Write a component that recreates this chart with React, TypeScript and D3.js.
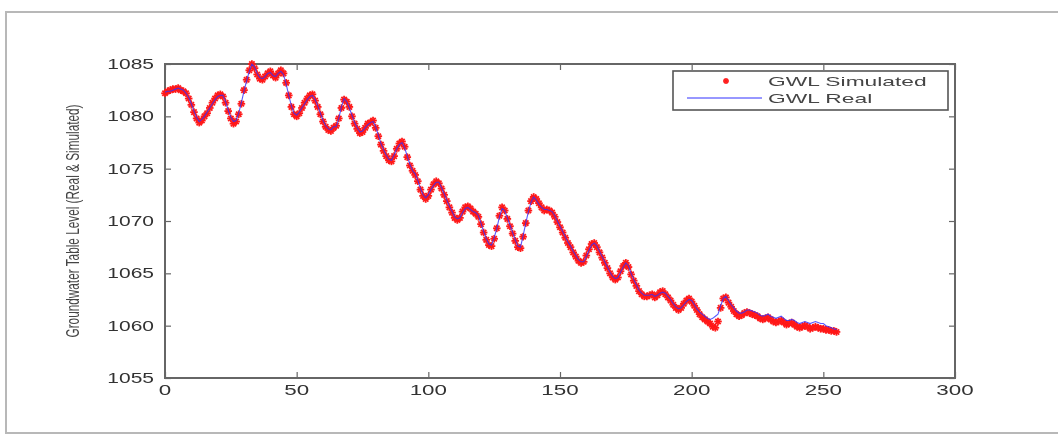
import React, { useRef, useEffect } from 'react'
import * as d3 from 'd3'

// groundwater level, real measurements (blue line)
const gwlReal: number[] = [
	1082.3, 1082.4, 1082.4, 1082.5, 1082.6, 1082.7, 1082.6, 1082.5, 1082.2, 1081.8,
	1081.2, 1080.5, 1079.9, 1079.5, 1079.7, 1080.0, 1080.4, 1080.8, 1081.2, 1081.6,
	1081.9, 1082.0, 1082.0, 1081.4, 1080.6, 1079.9, 1079.5, 1079.6, 1080.3, 1081.3,
	1082.4, 1083.4, 1084.3, 1085.0, 1084.7, 1084.1, 1083.7, 1083.6, 1083.8, 1084.1,
	1084.2, 1083.9, 1083.8, 1084.1, 1084.3, 1084.0, 1083.1, 1082.0, 1081.0, 1080.3,
	1080.1, 1080.4, 1080.8, 1081.2, 1081.6, 1081.9, 1082.0, 1081.6, 1081.0, 1080.3,
	1079.6, 1079.1, 1078.8, 1078.7, 1079.0, 1079.0, 1079.8, 1080.9, 1081.7, 1081.4,
	1080.8, 1080.1, 1079.4, 1078.9, 1078.5, 1078.6, 1078.9, 1079.2, 1079.4, 1079.5,
	1079.0, 1078.2, 1077.4, 1076.8, 1076.3, 1075.9, 1075.8, 1076.3, 1076.9, 1077.3,
	1077.5, 1077.0, 1076.2, 1075.4, 1074.8, 1074.5, 1073.9, 1073.1, 1072.5, 1072.2,
	1072.5, 1073.0, 1073.4, 1073.7, 1073.7, 1073.2, 1072.6, 1072.0, 1071.4, 1070.9,
	1070.4, 1070.2, 1070.3, 1070.8, 1071.2, 1071.3, 1071.1, 1070.9, 1070.8, 1070.5,
	1069.8, 1069.0, 1068.3, 1067.8, 1067.7, 1068.4, 1069.3, 1070.4, 1071.2, 1071.0,
	1070.3, 1069.6, 1068.9, 1068.2, 1067.6, 1067.5, 1068.6, 1069.8, 1070.9, 1071.8,
	1072.3, 1072.0, 1071.6, 1071.3, 1071.1, 1071.1, 1071.0, 1070.9, 1070.5, 1070.0,
	1069.5, 1069.0, 1068.5, 1068.0, 1067.6, 1067.1, 1066.7, 1066.3, 1066.1, 1066.1,
	1066.6, 1067.2, 1067.7, 1067.9, 1067.6, 1067.1, 1066.6, 1066.1, 1065.6, 1065.1,
	1064.7, 1064.5, 1064.6, 1065.1, 1065.6, 1066.0, 1065.7, 1065.0, 1064.4, 1063.9,
	1063.4, 1063.1, 1062.9, 1062.9, 1062.9, 1063.0, 1062.8, 1062.9, 1063.1, 1063.2,
	1063.1, 1062.8, 1062.5, 1062.1, 1061.8, 1061.6, 1061.7, 1062.0, 1062.3, 1062.5,
	1062.4, 1062.0, 1061.6, 1061.3, 1061.1, 1060.9, 1060.7, 1060.6, 1060.7, 1060.9,
	1061.1, 1061.9, 1062.6, 1062.8, 1062.4, 1062.0, 1061.7, 1061.4, 1061.2, 1061.2,
	1061.3, 1061.5, 1061.5, 1061.4, 1061.3, 1061.2, 1061.0, 1060.9, 1061.0, 1061.1,
	1060.9, 1060.8, 1060.7, 1060.8, 1060.9, 1060.7, 1060.5, 1060.5, 1060.6, 1060.5,
	1060.3, 1060.2, 1060.3, 1060.4, 1060.3, 1060.2, 1060.3, 1060.4, 1060.3, 1060.2,
	1060.2, 1060.0, 1059.9, 1059.8, 1059.7, 1059.6,
]

// groundwater level, model output (red asterisks)
const gwlSimulated: number[] = [
	1082.2, 1082.4, 1082.5, 1082.6, 1082.6, 1082.7, 1082.5, 1082.4, 1082.2, 1081.7,
	1081.1, 1080.4, 1079.8, 1079.4, 1079.6, 1080.0, 1080.3, 1080.8, 1081.3, 1081.7,
	1082.0, 1082.1, 1081.9, 1081.3, 1080.5, 1079.8, 1079.3, 1079.5, 1080.2, 1081.2,
	1082.5, 1083.5, 1084.4, 1085.0, 1084.6, 1084.0, 1083.6, 1083.5, 1083.8, 1084.1,
	1084.3, 1083.9, 1083.7, 1084.1, 1084.4, 1084.1, 1083.2, 1082.0, 1080.9, 1080.2,
	1080.0, 1080.3, 1080.8, 1081.3, 1081.7, 1082.0, 1082.1, 1081.5, 1080.9, 1080.2,
	1079.5, 1079.0, 1078.7, 1078.6, 1078.9, 1079.1, 1079.8, 1080.8, 1081.6, 1081.4,
	1080.9, 1080.0, 1079.3, 1078.8, 1078.4, 1078.5, 1078.9, 1079.3, 1079.4, 1079.6,
	1078.9, 1078.1, 1077.3, 1076.7, 1076.2, 1075.8, 1075.7, 1076.2, 1076.9, 1077.4,
	1077.6, 1077.1, 1076.1, 1075.3, 1074.8, 1074.4, 1073.8, 1073.0, 1072.4, 1072.1,
	1072.4, 1073.0, 1073.5, 1073.8, 1073.6, 1073.1, 1072.5, 1071.9, 1071.3, 1070.8,
	1070.3, 1070.1, 1070.3, 1070.9, 1071.3, 1071.4, 1071.2, 1070.9, 1070.7, 1070.4,
	1069.7, 1068.9, 1068.2, 1067.7, 1067.6, 1068.3, 1069.3, 1070.5, 1071.3, 1071.0,
	1070.2, 1069.5, 1068.8, 1068.1, 1067.5, 1067.4, 1068.5, 1069.8, 1071.0, 1071.9,
	1072.3, 1072.1, 1071.7, 1071.3, 1071.0, 1071.1, 1071.0, 1070.8, 1070.4, 1069.9,
	1069.4, 1068.9, 1068.4, 1067.9, 1067.5, 1067.0, 1066.6, 1066.2, 1066.0, 1066.1,
	1066.7, 1067.3, 1067.8, 1067.9, 1067.5, 1067.0, 1066.5, 1066.0, 1065.5, 1065.0,
	1064.6, 1064.4, 1064.6, 1065.2, 1065.7, 1066.0, 1065.6, 1064.9, 1064.3, 1063.8,
	1063.3, 1063.0, 1062.8, 1062.8, 1062.9, 1063.0, 1062.7, 1062.9, 1063.2, 1063.3,
	1063.0, 1062.7, 1062.4, 1062.0, 1061.7, 1061.5, 1061.7, 1062.1, 1062.4, 1062.6,
	1062.3, 1061.9, 1061.5, 1061.1, 1060.8, 1060.6, 1060.4, 1060.2, 1059.9, 1059.8,
	1060.4, 1061.7, 1062.6, 1062.7, 1062.2, 1061.8, 1061.4, 1061.1, 1060.9, 1061.0,
	1061.2, 1061.3, 1061.2, 1061.1, 1061.0, 1060.9, 1060.7, 1060.6, 1060.7, 1060.8,
	1060.6, 1060.4, 1060.3, 1060.4, 1060.5, 1060.3, 1060.1, 1060.2, 1060.3, 1060.1,
	1059.9, 1059.8, 1059.9, 1060.0, 1059.9, 1059.7, 1059.8, 1059.9, 1059.8, 1059.7,
	1059.7, 1059.6, 1059.6, 1059.5, 1059.5, 1059.4,
]

const xTicks: number[] = [0, 50, 100, 150, 200, 250, 300]
const yTicks: number[] = [1055, 1060, 1065, 1070, 1075, 1080, 1085]
const yLabel = 'Groundwater Table Level (Real & Simulated)'
const legendLabels: string[] = ['GWL Simulated', 'GWL Real']

const App = () => {
	const svgRef = useRef<SVGSVGElement>(null)

	useEffect(() => {
		const root = d3.select(svgRef.current)
		root.selectAll('*').remove()

		const W = 1058,
			H = 435
		const margin = { top: 64, right: 103, bottom: 57, left: 165 }
		const width = W - margin.left - margin.right,
			height = H - margin.top - margin.bottom

		root.attr('width', W).attr('height', H)

		// soft blur, the source is a low-res screenshot
		root.append('defs')
			.append('filter')
			.attr('id', 'soft')
			.append('feGaussianBlur')
			.attr('stdDeviation', 0.75)

		const page = root.append('g').attr('filter', 'url(#soft)')

		page.append('rect')
			.attr('x', 6)
			.attr('y', 12)
			.attr('width', 1060)
			.attr('height', 421)
			.attr('fill', 'white')
			.attr('stroke', '#b8b8b8')
			.attr('stroke-width', 2)

		const svg = page
			.append('g')
			.attr('transform', `translate(${margin.left},${margin.top})`)

		const x = d3.scaleLinear().domain([0, 300]).range([0, width])
		const y = d3.scaleLinear().domain([1055, 1085]).range([height, 0])

		const axisColor = '#666'
		const tickLen = 6

		// ticks on all four sides, pointing inwards (matlab style)
		svg.append('g')
			.attr('transform', `translate(0,${height})`)
			.call(d3.axisBottom(x).tickValues(xTicks).tickSize(-tickLen).tickFormat(() => ''))
		svg.append('g').call(d3.axisTop(x).tickValues(xTicks).tickSize(-tickLen).tickFormat(() => ''))
		svg.append('g').call(d3.axisLeft(y).tickValues(yTicks).tickSize(-tickLen).tickFormat(() => ''))
		svg.append('g')
			.attr('transform', `translate(${width},0)`)
			.call(d3.axisRight(y).tickValues(yTicks).tickSize(-tickLen).tickFormat(() => ''))
		svg.selectAll('.domain').remove()
		svg.selectAll('.tick line').attr('stroke', axisColor).attr('stroke-width', 1.2)

		svg.append('rect')
			.attr('width', width)
			.attr('height', height)
			.attr('fill', 'none')
			.attr('stroke', axisColor)
			.attr('stroke-width', 2)

		// tick labels (source text is stretched horizontally)
		svg.selectAll('.xlab')
			.data(xTicks)
			.join('text')
			.attr('class', 'xlab')
			.attr('transform', (d) => `translate(${x(d)},${height + 17}) scale(1.6,1)`)
			.attr('text-anchor', 'middle')
			.style('font-family', 'Arial, Liberation Sans, sans-serif')
			.style('font-size', '14px')
			.style('fill', '#333')
			.text((d) => d)

		svg.selectAll('.ylab')
			.data(yTicks)
			.join('text')
			.attr('class', 'ylab')
			.attr('transform', (d) => `translate(-11,${y(d) + 5}) scale(1.5,1)`)
			.attr('text-anchor', 'end')
			.style('font-family', 'Arial, Liberation Sans, sans-serif')
			.style('font-size', '14px')
			.style('fill', '#333')
			.text((d) => d)

		svg.append('text')
			.attr('transform', `translate(-86,${height / 2}) scale(1.55,1) rotate(-90)`)
			.attr('text-anchor', 'middle')
			.style('font-family', 'Arial, Liberation Sans, sans-serif')
			.style('font-size', '11.8px')
			.style('fill', '#444')
			.text(yLabel)

		const idx = d3.range(gwlSimulated.length)

		// simulated: red asterisks
		const star = (g: any, s: number) => {
			g.append('line').attr('x1', -s).attr('x2', s).attr('y1', 0).attr('y2', 0)
			g.append('line').attr('x1', 0).attr('x2', 0).attr('y1', -s).attr('y2', s)
			g.append('line').attr('x1', -s * 0.7).attr('x2', s * 0.7).attr('y1', -s * 0.7).attr('y2', s * 0.7)
			g.append('line').attr('x1', -s * 0.7).attr('x2', s * 0.7).attr('y1', s * 0.7).attr('y2', -s * 0.7)
		}

		svg.append('g')
			.attr('stroke', '#ff1a1a')
			.attr('stroke-width', 1.8)
			.selectAll('g')
			.data(idx)
			.join('g')
			.attr('transform', (i) => `translate(${x(i)},${y(gwlSimulated[i])})`)
			.each(function () {
				star(d3.select(this), 3.8)
			})

		// real: thin blue line
		const line = d3
			.line<number>()
			.x((i) => x(i))
			.y((i) => y(gwlReal[i]))
		svg.append('path')
			.datum(idx)
			.attr('d', line)
			.attr('fill', 'none')
			.attr('stroke', '#3030ff')
			.attr('stroke-opacity', 0.8)
			.attr('stroke-width', 1.1)

		// legend
		const lg = page.append('g').attr('transform', 'translate(673,71)')
		lg.append('rect')
			.attr('width', 275)
			.attr('height', 39)
			.attr('fill', 'white')
			.attr('stroke', '#555')
			.attr('stroke-width', 1.6)
		const ls = lg.append('g').attr('stroke', '#ff1a1a').attr('stroke-width', 1.6).attr('transform', 'translate(53,10)')
		star(ls, 3)
		lg.append('line')
			.attr('x1', 14)
			.attr('x2', 89)
			.attr('y1', 27)
			.attr('y2', 27)
			.attr('stroke', '#3030ff')
			.attr('stroke-width', 1)
		lg.selectAll('.lt')
			.data(legendLabels)
			.join('text')
			.attr('class', 'lt')
			.attr('transform', (d, i) => `translate(95,${15 + i * 17}) scale(1.9,1)`)
			.style('font-family', 'Arial, Liberation Sans, sans-serif')
			.style('font-size', '12px')
			.style('fill', '#444')
			.text((d) => d)
	}, [])

	return (
		<div style={{ position: 'absolute', left: 0, top: 0 }}>
			<svg ref={svgRef}></svg>
		</div>
	)
}

export default App
